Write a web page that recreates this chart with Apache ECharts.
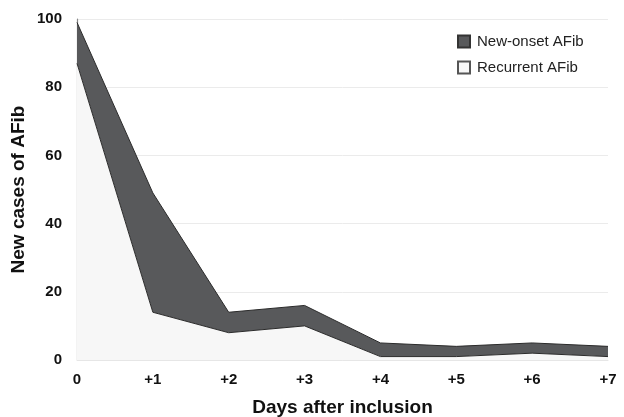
<!DOCTYPE html>
<html>
<head>
<meta charset="utf-8">
<script src="https://cdn.jsdelivr.net/npm/echarts@6/dist/echarts.min.js"></script>
<style>
html,body{margin:0;padding:0;background:#fff;}
#c{width:624px;height:417px;}
</style>
</head>
<body>
<div id="c"></div>
<script>
const days = ['0', '+1', '+2', '+3', '+4', '+5', '+6', '+7'];
const recurrent = [87, 14, 8, 10, 1, 1, 2, 1];
const newOnset = [12, 35, 6, 6, 4, 3, 3, 3];
const yTicks = [0, 20, 40, 60, 80, 100];

const chart = echarts.init(document.getElementById('c'));
const font = 'Liberation Sans, Arial, Helvetica, sans-serif';
chart.setOption({
  animation: false,
  textStyle: { fontFamily: font },
  grid: { left: 77, right: 16, top: 19, bottom: 57, outerBoundsMode: 'none', containLabel: false },
  legend: {
    orient: 'vertical',
    left: 452, top: 29,
    itemWidth: 12, itemHeight: 12, itemGap: 11,
    icon: 'rect',
    data: ['New-onset AFib', 'Recurrent AFib'],
    textStyle: { fontFamily: font, fontSize: 15, color: '#222', padding: [0, 0, 0, 2] }
  },
  xAxis: {
    type: 'category',
    data: days,
    boundaryGap: false,
    name: 'Days after inclusion',
    nameLocation: 'middle',
    nameGap: 38,
    nameMoveOverlap: false,
    nameTextStyle: { fontFamily: font, fontSize: 19, fontWeight: 'bold', color: '#111' },
    axisLine: { show: true, lineStyle: { color: '#e6e6e6', width: 1 } },
    axisTick: { show: false },
    axisLabel: { fontFamily: font, fontSize: 15, fontWeight: 'bold', color: '#111', margin: 12 }
  },
  yAxis: {
    type: 'value',
    min: yTicks[0], max: yTicks[yTicks.length - 1], interval: 20,
    name: 'New cases of AFib',
    nameLocation: 'middle',
    nameGap: 49,
    nameMoveOverlap: false,
    nameRotate: 90,
    nameTextStyle: { fontFamily: font, fontSize: 19, fontWeight: 'bold', color: '#111' },
    axisLine: { show: true, lineStyle: { color: '#888', width: 1.2 } },
    axisTick: { show: false },
    axisLabel: { fontFamily: font, fontSize: 15, fontWeight: 'bold', color: '#111', margin: 15 },
    splitLine: { lineStyle: { color: '#ebebeb', width: 1 } }
  },
  series: [
    {
      name: 'Recurrent AFib',
      type: 'line',
      stack: 'total',
      data: recurrent,
      showSymbol: false,
      symbol: 'none',
      itemStyle: { color: '#f7f7f7', borderColor: '#555', borderWidth: 1 },
      lineStyle: { color: '#2a2a2a', width: 1 },
      areaStyle: { color: '#f7f7f7', opacity: 1 },
      z: 3
    },
    {
      name: 'New-onset AFib',
      type: 'line',
      stack: 'total',
      data: newOnset,
      showSymbol: false,
      symbol: 'none',
      itemStyle: { color: '#58595b', borderColor: '#333', borderWidth: 1 },
      lineStyle: { color: '#2a2a2a', width: 1 },
      areaStyle: { color: '#58595b', opacity: 1 },
      z: 2
    }
  ]
});
</script>
</body>
</html>
